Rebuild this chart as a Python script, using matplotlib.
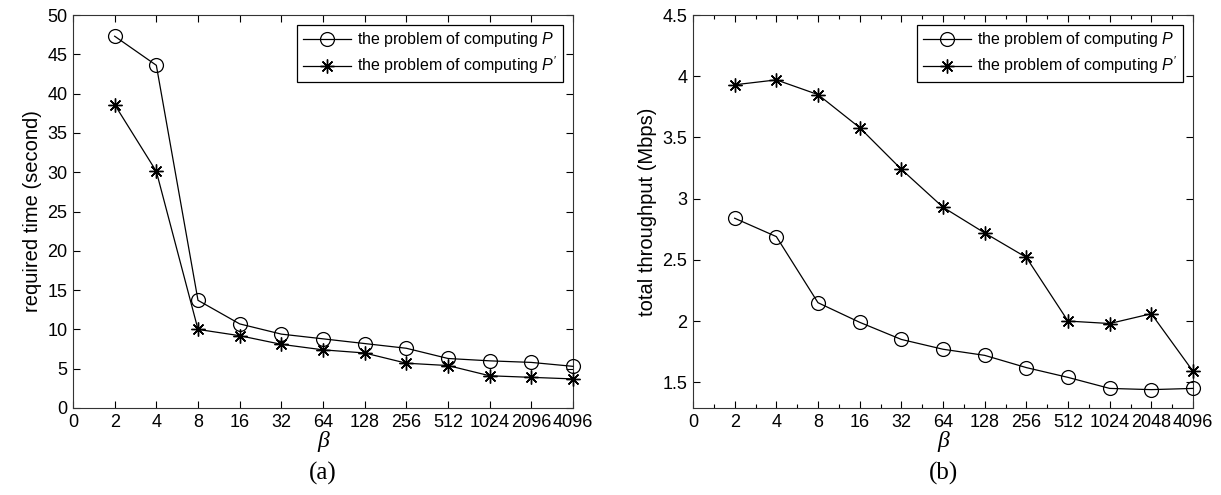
import numpy as np
import matplotlib
matplotlib.use("Agg")
import matplotlib.pyplot as plt
from matplotlib.ticker import MultipleLocator

plt.rcParams['font.family'] = ['Liberation Sans', 'DejaVu Sans']
plt.rcParams['mathtext.fontset'] = 'custom'
plt.rcParams['mathtext.it'] = 'Liberation Sans:italic'
plt.rcParams['mathtext.rm'] = 'Liberation Sans'

# x positions 1..12 correspond to beta = 2 .. 4096
xlabels_a = ['0', '2', '4', '8', '16', '32', '64', '128', '256', '512', '1024', '2096', '4096']
xlabels_b = ['0', '2', '4', '8', '16', '32', '64', '128', '256', '512', '1024', '2048', '4096']
x = np.arange(1, 13)

# (a) required time (second)
time_p = [47.3, 43.6, 13.7, 10.7, 9.4, 8.8, 8.2, 7.6, 6.3, 6.0, 5.8, 5.3]
time_pp = [38.6, 30.1, 10.0, 9.2, 8.1, 7.4, 7.0, 5.7, 5.4, 4.1, 3.9, 3.7]

# (b) total throughput (Mbps)
thr_p = [2.84, 2.69, 2.15, 1.99, 1.85, 1.77, 1.72, 1.62, 1.54, 1.45, 1.44, 1.45]
thr_pp = [3.93, 3.97, 3.85, 3.58, 3.24, 2.93, 2.72, 2.52, 2.00, 1.98, 2.06, 1.59]

labels = [r'the problem of computing $P$', r"the problem of computing $P'$"]

fig = plt.figure(figsize=(12.21, 4.95), dpi=100)
ax1 = fig.add_axes([73 / 1221, 87 / 495, 500 / 1221, 393 / 495])
ax2 = fig.add_axes([693 / 1221, 87 / 495, 500 / 1221, 393 / 495])

star = (8, 2, 0)


def draw(ax, ya, yb):
    ax.plot(x, ya, color='black', lw=0.9, marker='o', ms=10, mfc='none', mew=0.9,
            label=labels[0], clip_on=False, zorder=3)
    ax.plot(x, yb, color='black', lw=0.9, marker=star, ms=10, mew=1.0,
            label=labels[1], clip_on=False, zorder=3)


def style_axis(ax, xlabels):
    ax.set_xlim(0, 12)
    ax.set_xticks(np.arange(0, 13))
    ax.set_xticklabels(xlabels)
    ax.tick_params(direction='in', top=True, right=True, labelsize=13, length=5, width=0.8, pad=4)
    ax.tick_params(which='minor', direction='in', top=True, right=True, length=3, width=0.8)
    for s in ax.spines.values():
        s.set_linewidth(0.8)
        s.set_color('#333333')
    ax.set_xlabel('β', fontsize=17, family='Liberation Serif', style='italic', labelpad=0)
    leg = ax.legend(loc='upper right', fontsize=11.5, handlelength=3.0, fancybox=False,
                    edgecolor='black', framealpha=1, borderpad=0.35, labelspacing=0.35,
                    borderaxespad=0.6, handletextpad=0.4)
    leg.get_frame().set_linewidth(0.9)


draw(ax1, time_p, time_pp)
ax1.set_ylim(0, 50)
ax1.yaxis.set_major_locator(MultipleLocator(5))
ax1.set_ylabel('required time (second)', fontsize=14.5, labelpad=4)
style_axis(ax1, xlabels_a)

draw(ax2, thr_p, thr_pp)
ax2.set_ylim(1.29, 4.5)
ax2.set_yticks([1.5, 2, 2.5, 3, 3.5, 4, 4.5])
ax2.set_yticklabels(['1.5', '2', '2.5', '3', '3.5', '4', '4.5'])
ax2.xaxis.set_minor_locator(MultipleLocator(0.5))
ax2.set_ylabel('total throughput (Mbps)', fontsize=14.5, labelpad=4)
style_axis(ax2, xlabels_b)

fig.text(ax1.get_position().x0 + ax1.get_position().width / 2, 0.02, '(a)',
         ha='center', va='bottom', fontsize=18, family='Liberation Serif')
fig.text(ax2.get_position().x0 + ax2.get_position().width / 2, 0.02, '(b)',
         ha='center', va='bottom', fontsize=18, family='Liberation Serif')

fig.savefig('out.png', dpi=100)
